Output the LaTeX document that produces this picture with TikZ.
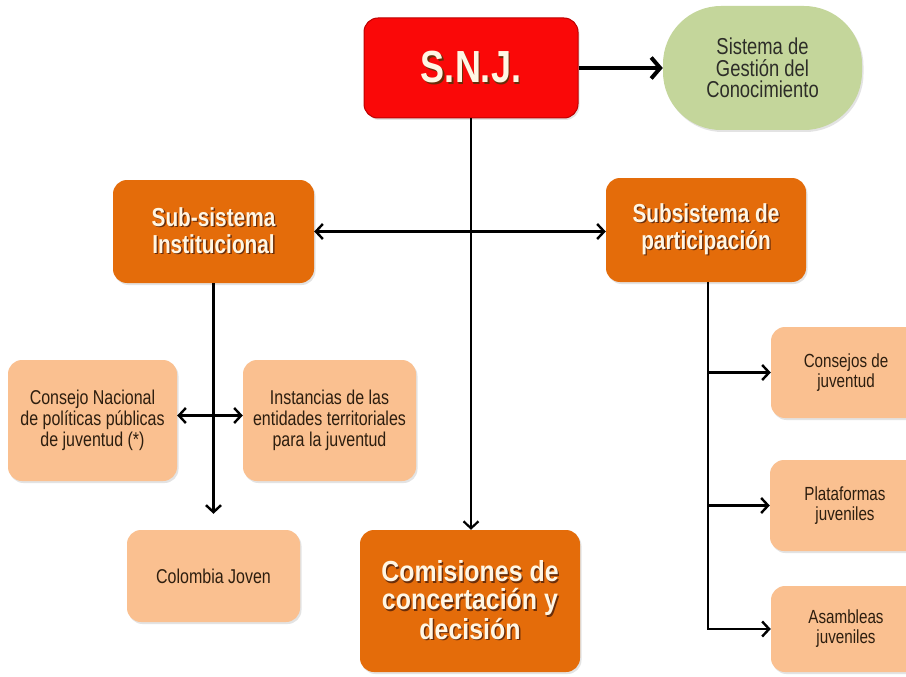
\documentclass[tikz,border=0pt]{standalone}
\usepackage{fontspec}
\setmainfont{Liberation Sans}
\newfontfamily\nf[FakeStretch=0.8]{Liberation Sans}
\newfontfamily\nfc[FakeStretch=0.86]{Liberation Sans}
\usetikzlibrary{arrows.meta,shadows}
\definecolor{snjred}{RGB}{250,8,8}
\definecolor{snjedge}{RGB}{190,0,0}
\definecolor{orng}{RGB}{228,108,10}
\definecolor{lorng}{RGB}{250,192,144}
\definecolor{lgreen}{RGB}{196,214,155}
\definecolor{cream}{RGB}{255,246,228}
\definecolor{shc}{RGB}{105,45,10}
\definecolor{dtext}{RGB}{45,30,15}
\definecolor{gtext}{RGB}{45,45,40}
\newcommand\shd[1]{\rlap{\textcolor{shc}{\kern1.4pt\raisebox{-1.4pt}{#1}}}#1}
\begin{document}
\begin{tikzpicture}[x=1pt,y=-1pt,
  box/.style={rectangle, rounded corners=14pt, inner sep=0pt, align=center,
    drop shadow={shadow xshift=1.5pt,shadow yshift=-2pt,opacity=0.22}},
  bigbox/.style={box, fill=orng, text=cream, font=\nf\bfseries\fontsize{26}{27}\selectfont},
  smallbox/.style={box, fill=lorng, text=dtext, font=\nf\fontsize{20}{21}\selectfont},
  rightbox/.style={smallbox, minimum width=150pt, font=\nf\fontsize{19}{20}\selectfont},
  link/.style={line width=2.4pt, -{Straight Barb[length=7pt,width=15pt]}},
  dlink/.style={line width=2.4pt, {Straight Barb[length=7pt,width=15pt]}-{Straight Barb[length=7pt,width=15pt]}},
  thicklink/.style={line width=4pt, -{Straight Barb[length=9pt,width=21pt]}}
]
\useasboundingbox (0,0) rectangle (906,677);
\fill[white] (0,0) rectangle (906,677);

% top
\node[box, fill=snjred, draw=snjedge, line width=1pt, text=cream,
  minimum width=214pt, minimum height=100pt,
  font=\nf\bfseries\fontsize{45}{45}\selectfont] (snj) at (471,68) {\shd{S.N.J.}};
\node[box, rounded corners=58pt, fill=lgreen, text=gtext,
  minimum width=199pt, minimum height=124pt,
  font=\nf\fontsize{23}{21.5}\selectfont] (sgc) at (762.5,68) {Sistema de\\Gestión del\\Conocimiento};

% subsystems
\node[bigbox, minimum width=201pt, minimum height=103pt] (subI) at (213.5,231.5)
  {\shd{Sub-sistema}\\\shd{Institucional}};
\node[bigbox, minimum width=200pt, minimum height=104pt] (subP) at (706,230)
  {\shd{Subsistema de}\\\shd{participación}};

% left branch
\node[smallbox, minimum width=169pt, minimum height=121pt] (cnp) at (92.5,420.5)
  {Consejo Nacional\\de políticas públicas\\de juventud (*)};
\node[smallbox, minimum width=173pt, minimum height=121pt] (inst) at (329.5,420.5)
  {Instancias de las\\entidades territoriales\\para la juventud};
\node[smallbox, minimum width=173pt, minimum height=92pt] (colj) at (213.5,576)
  {Colombia Joven};

% centre
\node[bigbox, minimum width=220pt, minimum height=142pt,
  font=\nfc\bfseries\fontsize{29}{28}\selectfont] (com) at (470,601)
  {\shd{Comisiones de}\\\shd{concertación y}\\\shd{decisión}};

% right branch
\node[rightbox, minimum height=91pt] (cjs) at (846,372.5) {Consejos de\\juventud};
\node[rightbox, minimum height=91pt] (plat) at (845,505.5) {Plataformas\\juveniles};
\node[rightbox, minimum height=86pt] (asam) at (846,629) {Asambleas\\juveniles};

% connectors
\draw[thicklink] (snj.east) -- (snj.east -| sgc.west);
\draw[link, line width=2.2pt] (snj.south) -- (snj.south |- com.north);
\draw[dlink] (subI.east) -- (subI.east -| subP.west);
\draw[link, shorten >=16pt] (subI.south) -- (subI.south |- colj.north);
\draw[dlink] ([yshift=5pt]cnp.east) -- ([yshift=5pt]inst.west);
\coordinate (pbase) at ([xshift=2pt]subP.south);
\coordinate (b1) at (pbase |- cjs.west);
\coordinate (b2) at (pbase |- plat.west);
\draw[link, line join=miter] (pbase) |- (asam.west);
\draw[link] (b1) -- (cjs.west);
\draw[link] (b2) -- (plat.west);
\end{tikzpicture}
\end{document}
